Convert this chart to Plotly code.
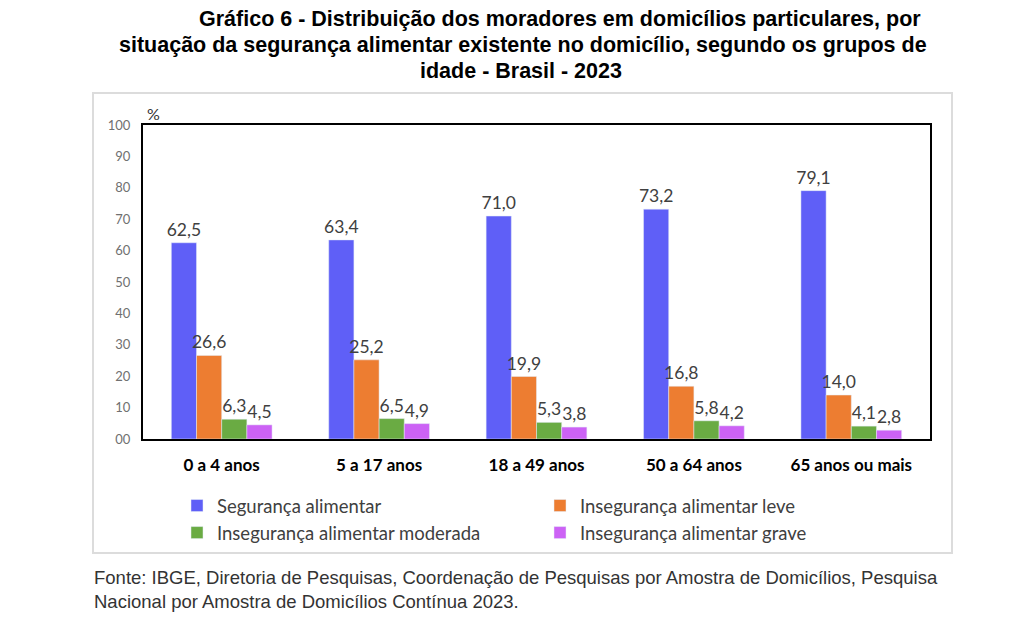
import plotly.graph_objects as go

grupos = ["0 a 4 anos", "5 a 17 anos", "18 a 49 anos", "50 a 64 anos", "65 anos ou mais"]
seguranca = [62.5, 63.4, 71.0, 73.2, 79.1]
inseg_leve = [26.6, 25.2, 19.9, 16.8, 14.0]
inseg_moderada = [6.3, 6.5, 5.3, 5.8, 4.1]
inseg_grave = [4.5, 4.9, 3.8, 4.2, 2.8]
y_ticks = [0, 10, 20, 30, 40, 50, 60, 70, 80, 90, 100]
y_tick_text = ["00", "10", "20", "30", "40", "50", "60", "70", "80", "90", "100"]
titulo = [
    "Gráfico 6 - Distribuição dos moradores em domicílios particulares, por",
    "situação da segurança alimentar existente no domicílio, segundo os grupos de",
    "idade - Brasil - 2023",
]

series = [
    ("Segurança alimentar", seguranca, "#5f5ff7", "legend"),
    ("Insegurança alimentar leve", inseg_leve, "#ed7d31", "legend2"),
    ("Insegurança alimentar moderada", inseg_moderada, "#6aab43", "legend"),
    ("Insegurança alimentar grave", inseg_grave, "#cc62f5", "legend2"),
]

fig = go.Figure()
for name, vals, color, leg in series:
    fig.add_trace(go.Bar(
        x=grupos, y=vals, name=name, marker_color=color, legend=leg,
        text=vals, texttemplate="%{y:.1f}", textposition="outside",
        constraintext="none",
        textfont=dict(family="Lato, Open Sans, sans-serif", size=17.5, color="#404040"),
        cliponaxis=False,
    ))

# page is drawn 8px in from the top-left, so work in page pixels and shift
OFF = 8
W, H = 1024, 631
L, R, T, B = 143 - OFF, 930 - OFF, 125 - OFF, 439 - OFF
pw, ph = R - L, B - T
px = lambda x: (x - OFF - L) / pw
py = lambda y: (B - (y - OFF)) / ph

leg_font = dict(family="Lato, Open Sans, sans-serif", size=18.5, color="#404040")

# title lines: first one is indented in the original
title_x = [560, 523, 521]
title_y = [19, 45, 71]
title_ann = [
    dict(text="<b>" + t + "</b>", xref="paper", yref="paper", x=px(xx), y=py(yy),
         xanchor="center", yanchor="middle", showarrow=False,
         font=dict(family="Liberation Sans, Arial", size=21.5, color="black"))
    for t, xx, yy in zip(titulo, title_x, title_y)
]

fig.update_layout(
    width=W, height=H,
    margin=dict(l=L, r=W - R, t=T, b=H - B),
    paper_bgcolor="white", plot_bgcolor="white",
    separators=",.",
    barmode="group", bargap=0.36, bargroupgap=0,
    showlegend=True,
    legend=dict(x=px(177), y=py(487), xanchor="left", yanchor="top",
                font=leg_font, bgcolor="rgba(0,0,0,0)", tracegroupgap=0),
    legend2=dict(x=px(540), y=py(487), xanchor="left", yanchor="top",
                 font=leg_font, bgcolor="rgba(0,0,0,0)", tracegroupgap=0),
    xaxis=dict(
        showline=True, linecolor="black", linewidth=2, mirror=True,
        ticks="outside", ticklen=10, tickcolor="rgba(0,0,0,0)",
        tickfont=dict(family="Lato, sans-serif", size=17, color="black", weight="bold"),
    ),
    yaxis=dict(
        range=[0, 100], tickvals=y_ticks, ticktext=y_tick_text,
        showgrid=False, zeroline=False,
        showline=True, linecolor="black", linewidth=2, mirror=True,
        ticks="outside", ticklen=8, tickcolor="rgba(0,0,0,0)",
        tickfont=dict(family="Lato, sans-serif", size=13, color="#707070"),
    ),
    shapes=[dict(type="rect", xref="paper", yref="paper",
                 x0=px(93), x1=px(952), y0=py(553), y1=py(93),
                 line=dict(color="#dcdcdc", width=2), layer="below")],
    annotations=title_ann + [
        dict(text="%", xref="paper", yref="paper", x=px(153), y=py(113),
             xanchor="center", yanchor="middle", showarrow=False,
             font=dict(family="Lato, sans-serif", size=16, color="#333333")),
        dict(text="Fonte: IBGE, Diretoria de Pesquisas, Coordenação de Pesquisas por Amostra de Domicílios, Pesquisa<br>"
                  "Nacional por Amostra de Domicílios Contínua 2023.",
             xref="paper", yref="paper", x=px(92), y=py(565), xanchor="left", yanchor="top",
             showarrow=False, align="left",
             font=dict(family="Liberation Sans, Arial", size=18.5, color="#333333")),
    ],
)

fig.write_html("out.html")
